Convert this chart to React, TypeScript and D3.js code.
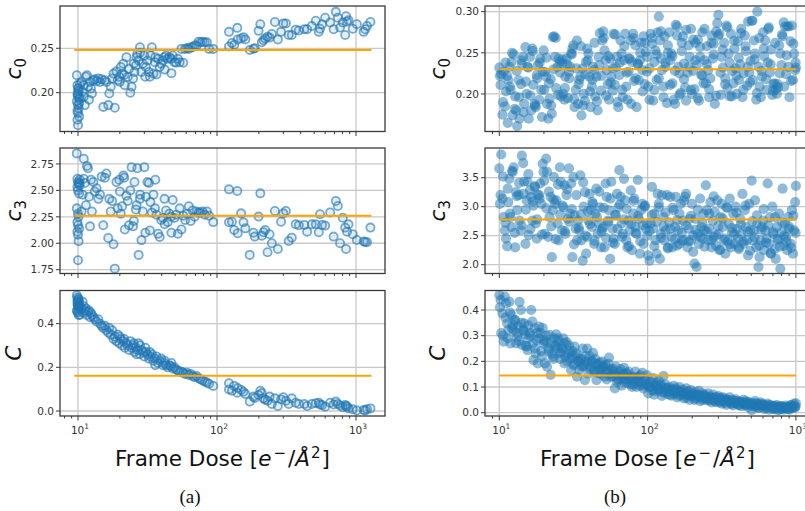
import React from "react";
import * as d3 from "d3";

// ---------- (a) frame dose and fitted parameters ----------
const doseA = [
  9.8, 9.9, 10.0, 10.1, 9.9, 10.0, 10.2, 9.8, 10.0, 10.1,
  9.9, 10.0, 10.2, 9.9, 10.0, 10.1, 10.0, 10.2, 10.3, 10.3,
  10.6, 10.8, 11.0, 11.0, 11.2, 11.4, 11.6, 11.8, 12.0, 12.2,
  12.4, 12.6, 12.9, 13.2, 13.6, 14.0, 14.4, 14.8, 15.2, 15.6,
  16.0, 16.5, 16.8, 17.2, 17.6, 18.0, 18.4, 18.9, 19.3, 19.8,
  20.3, 20.8, 21.2, 21.7, 22.3, 22.8, 23.3, 23.8, 24.3, 24.9,
  25.5, 26.1, 26.7, 27.3, 27.9, 28.6, 29.3, 30.0, 30.8, 31.6,
  32.4, 33.2, 34.0, 34.9, 35.8, 36.7, 37.7, 38.7, 39.7, 40.8,
  41.9, 43.0, 44.2, 45.4, 46.7, 48.0, 49.4, 50.8, 52.3, 53.9,
  55.5, 57.2, 59.0, 60.8, 62.7, 64.7, 66.8, 69.0, 71.3, 73.7,
  76.2, 78.8, 81.6, 84.6, 87.7, 94.0, 20.0, 21.5, 25.2, 28.0,
  32.9, 36.0, 42.0, 47.0, 30.5, 26.4,
  122, 122, 128, 133, 140, 141, 149, 155, 160, 172,
  183, 187, 199, 205, 210, 216, 222, 231, 239, 248,
  261, 274, 289, 300, 313, 328, 345, 368, 388, 425,
  445, 481, 514, 540, 551, 570, 600, 652, 690, 716,
  740, 768, 803, 836, 848, 862, 883, 948, 1013, 1135,
  1165, 1200, 1270,
];

const c0A = [
  0.2196, 0.2085, 0.2048, 0.2019, 0.1981, 0.1956, 0.193, 0.19, 0.1863, 0.1826,
  0.1796, 0.177, 0.1733, 0.1696, 0.1633, 0.205, 0.199, 0.188, 0.21, 0.195,
  0.212, 0.201, 0.2085, 0.1956, 0.186, 0.218, 0.2196, 0.2067, 0.192, 0.212,
  0.2048, 0.199, 0.214, 0.215, 0.213, 0.216, 0.212, 0.215, 0.184, 0.214,
  0.212, 0.186, 0.199, 0.2067, 0.216, 0.2215, 0.183, 0.224, 0.214, 0.218,
  0.229, 0.2215, 0.2326, 0.2085, 0.24, 0.2178, 0.227, 0.2, 0.2067, 0.216,
  0.2233, 0.2307, 0.2437, 0.2363, 0.2511, 0.2233, 0.2326, 0.2419, 0.229, 0.2363,
  0.2233, 0.2419, 0.2511, 0.2215, 0.2344, 0.2204, 0.2381, 0.229, 0.2326, 0.2363,
  0.24, 0.2419, 0.2381, 0.24, 0.2381, 0.2419, 0.2344, 0.2337, 0.2381, 0.2344,
  0.2493, 0.2337, 0.2493, 0.2504, 0.2493, 0.2511, 0.2511, 0.253, 0.253, 0.2574,
  0.2567, 0.2574, 0.2567, 0.2567, 0.2493, 0.2493, 0.2122, 0.22, 0.233, 0.245,
  0.218, 0.24, 0.226, 0.222, 0.218, 0.24,
  0.2685, 0.252, 0.256, 0.254, 0.273, 0.26, 0.261, 0.2625, 0.26, 0.248,
  0.2495, 0.25, 0.2696, 0.277, 0.2567, 0.259, 0.261, 0.263, 0.262, 0.266,
  0.2796, 0.26, 0.2685, 0.278, 0.278, 0.265, 0.265, 0.271, 0.27, 0.2715,
  0.2715, 0.275, 0.281, 0.2685, 0.272, 0.277, 0.2844, 0.279, 0.2715, 0.291,
  0.2844, 0.2733, 0.279, 0.265, 0.286, 0.28, 0.2815, 0.272, 0.277, 0.2685,
  0.2715, 0.275, 0.2796,
];

const c3A = [
  2.85, 2.61, 2.58, 2.56, 2.53, 2.5, 2.47, 2.33, 2.28, 2.25,
  2.2, 2.17, 2.14, 2.11, 2.08, 2.02, 1.84, 2.57, 2.6, 2.55,
  2.3, 2.46, 2.61, 2.8, 2.57, 2.36, 2.73, 2.71, 2.44, 2.16,
  2.6, 2.3, 2.58, 2.49, 2.52, 2.42, 2.46, 2.63, 2.17, 2.62,
  2.66, 2.05, 2.42, 2.3, 2.4, 1.99, 1.76, 2.58, 2.33, 2.6,
  2.28, 2.35, 2.64, 2.13, 2.45, 2.4, 2.17, 2.5, 2.72, 2.16,
  2.58, 2.32, 2.71, 1.89, 2.42, 2.03, 2.3, 2.72, 2.44, 2.58,
  2.57, 2.39, 2.29, 2.46, 2.33, 2.27, 2.09, 2.06, 2.22, 2.24,
  2.42, 2.31, 2.2, 2.28, 2.25, 2.41, 2.24, 2.27, 2.09, 2.33,
  2.13, 2.26, 2.22, 2.28, 2.35, 2.21, 2.31, 2.25, 2.3, 2.29,
  2.29, 2.3, 2.27, 2.3, 2.26, 2.2, 2.49, 2.62, 2.21, 2.46,
  2.12, 2.6, 2.18, 2.1, 2.1, 2.36,
  2.51, 2.198, 2.204, 2.126, 2.494, 2.094, 2.283, 2.198, 2.141, 1.89,
  2.1, 2.063, 2.252, 2.472, 2.072, 2.104, 2.126, 1.915, 2.085, 2.0,
  2.305, 1.946, 2.204, 2.283, 2.305, 2.022, 2.053, 2.179, 2.17, 2.173,
  2.11, 2.179, 2.179, 2.104, 2.274, 2.173, 2.167, 2.292, 2.063, 2.4,
  2.352, 2.0, 2.242, 2.148, 1.946, 2.11, 2.179, 2.085, 2.031, 2.016,
  2.013, 2.01, 2.148,
];

const cA = [
  0.53, 0.52, 0.51, 0.5, 0.49, 0.48, 0.47, 0.46, 0.45, 0.44,
  0.505, 0.495, 0.475, 0.455, 0.485, 0.515, 0.465, 0.5, 0.44, 0.48,
  0.47, 0.5, 0.45, 0.48, 0.46, 0.47, 0.44, 0.455, 0.46, 0.43,
  0.45, 0.44, 0.43, 0.42, 0.41, 0.42, 0.4, 0.39, 0.38, 0.39,
  0.37, 0.36, 0.38, 0.35, 0.37, 0.33, 0.34, 0.32, 0.35, 0.31,
  0.33, 0.3, 0.32, 0.29, 0.31, 0.3, 0.28, 0.32, 0.29, 0.3,
  0.27, 0.29, 0.28, 0.31, 0.26, 0.28, 0.27, 0.25, 0.27, 0.26,
  0.24, 0.25, 0.26, 0.23, 0.24, 0.25, 0.22, 0.23, 0.24, 0.21,
  0.22, 0.21, 0.2, 0.21, 0.205, 0.195, 0.2, 0.19, 0.185, 0.18,
  0.18, 0.175, 0.17, 0.175, 0.165, 0.17, 0.16, 0.155, 0.16, 0.15,
  0.145, 0.14, 0.135, 0.13, 0.125, 0.115, 0.34, 0.33, 0.31, 0.3,
  0.27, 0.21, 0.23, 0.22, 0.29, 0.26,
  0.127, 0.099, 0.093, 0.115, 0.084, 0.105, 0.096, 0.088, 0.078, 0.043,
  0.066, 0.06, 0.073, 0.093, 0.082, 0.058, 0.052, 0.047, 0.066, 0.032,
  0.058, 0.023, 0.053, 0.063, 0.047, 0.032, 0.058, 0.038, 0.032, 0.032,
  0.023, 0.032, 0.036, 0.038, 0.03, 0.027, 0.02, 0.038, 0.03, 0.043,
  0.032, 0.025, 0.017, 0.028, 0.023, 0.02, 0.012, 0.008, 0.002, 0.005,
  0.002, 0.008, 0.012,
];

// ---------- (b) frame dose and fitted parameters ----------
const doseB = [
  10.0, 10.2, 10.3, 10.5, 10.7, 10.9, 11.1, 11.3, 11.5, 11.7,
  11.9, 12.1, 12.3, 12.5, 12.8, 13.0, 13.2, 13.5, 13.7, 14.0,
  14.2, 14.5, 14.7, 15.0, 15.3, 15.5, 15.8, 16.1, 16.4, 16.7,
  17.0, 17.3, 17.6, 17.9, 18.2, 18.6, 18.9, 19.2, 19.6, 19.9,
  20.3, 20.7, 21.0, 21.4, 21.8, 22.2, 22.6, 23.0, 23.4, 23.8,
  24.2, 24.7, 25.1, 25.6, 26.0, 26.5, 27.0, 27.5, 27.9, 28.4,
  29.0, 29.5, 30.0, 30.5, 31.1, 31.6, 32.2, 32.8, 33.4, 34.0,
  34.6, 35.2, 35.8, 36.5, 37.1, 37.8, 38.5, 39.2, 39.9, 40.6,
  41.3, 42.1, 42.8, 43.6, 44.4, 45.2, 46.0, 46.8, 47.6, 48.5,
  49.4, 50.3, 51.2, 52.1, 53.0, 54.0, 54.9, 55.9, 56.9, 58.0,
  59.0, 60.1, 61.1, 62.2, 63.4, 64.5, 65.7, 66.8, 68.0, 69.3,
  70.5, 71.8, 73.1, 74.4, 75.7, 77.1, 78.5, 79.9, 81.3, 82.8,
  84.3, 85.8, 87.3, 88.9, 90.5, 92.1, 93.8, 95.5, 97.2, 98.9,
  101, 103, 105, 107, 109, 111, 113, 115, 117, 119,
  121, 123, 125, 128, 130, 132, 135, 137, 140, 142,
  145, 147, 150, 153, 155, 158, 161, 164, 167, 170,
  173, 176, 179, 182, 186, 189, 192, 196, 199, 203,
  207, 210, 214, 218, 222, 226, 230, 234, 238, 242,
  247, 251, 256, 260, 265, 270, 275, 279, 284, 290,
  295, 300, 305, 311, 316, 322, 328, 334, 340, 346,
  352, 358, 365, 371, 378, 385, 392, 399, 406, 413,
  421, 428, 436, 444, 452, 460, 468, 476, 485, 494,
  503, 512, 521, 530, 540, 549, 559, 569, 580, 590,
  601, 611, 622, 634, 645, 657, 668, 680, 693, 705,
  718, 731, 744, 757, 771, 785, 799, 813, 828, 843,
  858, 873, 889, 905, 921, 938, 955, 972, 989, 1000,
  // second pass of frames
  10.1, 10.6, 11.0, 11.4, 11.8, 12.2, 12.7, 13.1, 13.6, 14.1,
  14.6, 15.1, 15.7, 16.2, 16.8, 17.4, 18.0, 18.7, 19.4, 20.1,
  20.8, 21.6, 22.4, 23.2, 24.0, 24.9, 25.8, 26.7, 27.7, 28.7,
  29.7, 30.8, 31.9, 33.1, 34.3, 35.5, 36.8, 38.1, 39.5, 40.9,
  42.4, 43.9, 45.5, 47.2, 48.9, 50.6, 52.5, 54.4, 56.3, 58.4,
  60.5, 62.7, 64.9, 67.3, 69.7, 72.2, 74.8, 77.5, 80.3, 83.2,
  86.2, 89.3, 92.6, 95.9, 99.4,
  103, 107, 111, 115, 119, 123, 128, 132, 137, 142,
  147, 153, 158, 164, 170, 176, 182, 189, 196, 203,
  210, 218, 226, 234, 242, 251, 260, 269, 279, 289,
  299, 310, 321, 333, 345, 357, 370, 383, 397, 412,
  426, 442, 458, 474, 491, 509, 527, 546, 566, 586,
  607, 629, 652, 675, 700, 725, 751, 778, 806, 835,
  865, 896, 929, 962, 995,
];

const c0B = [
  0.232, 0.211, 0.224, 0.175, 0.227, 0.185, 0.203, 0.222, 0.217, 0.233,
  0.205, 0.239, 0.174, 0.248, 0.197, 0.18, 0.161, 0.217, 0.17, 0.212,
  0.237, 0.245, 0.188, 0.257, 0.2, 0.233, 0.17, 0.245, 0.18, 0.255,
  0.211, 0.188, 0.184, 0.223, 0.235, 0.193, 0.243, 0.205, 0.227, 0.253,
  0.227, 0.221, 0.188, 0.17, 0.194, 0.218, 0.176, 0.269, 0.27, 0.245,
  0.207, 0.233, 0.243, 0.239, 0.197, 0.237, 0.2, 0.193, 0.221, 0.243,
  0.195, 0.227, 0.233, 0.249, 0.255, 0.259, 0.184, 0.205, 0.265, 0.188,
  0.217, 0.221, 0.174, 0.231, 0.2, 0.192, 0.239, 0.255, 0.249, 0.221,
  0.184, 0.209, 0.233, 0.229, 0.197, 0.221, 0.18, 0.245, 0.274, 0.204,
  0.265, 0.276, 0.253, 0.241, 0.229, 0.212, 0.193, 0.243, 0.221, 0.204,
  0.273, 0.211, 0.233, 0.245, 0.184, 0.223, 0.265, 0.249, 0.196, 0.241,
  0.273, 0.209, 0.193, 0.227, 0.243, 0.265, 0.239, 0.273, 0.216, 0.259,
  0.184, 0.237, 0.217, 0.241, 0.262, 0.229, 0.27, 0.212, 0.251, 0.227,
  0.209, 0.193, 0.273, 0.261, 0.192, 0.239, 0.253, 0.217, 0.275, 0.294,
  0.265, 0.243, 0.229, 0.209, 0.27, 0.233, 0.189, 0.25, 0.275, 0.241,
  0.249, 0.213, 0.193, 0.188, 0.284, 0.282, 0.233, 0.225, 0.201, 0.262,
  0.27, 0.237, 0.208, 0.192, 0.226, 0.259, 0.245, 0.279, 0.2, 0.228,
  0.206, 0.262, 0.235, 0.266, 0.192, 0.245, 0.223, 0.275, 0.213, 0.241,
  0.213, 0.258, 0.229, 0.196, 0.219, 0.271, 0.243, 0.261, 0.188, 0.276,
  0.286, 0.296, 0.273, 0.199, 0.245, 0.232, 0.262, 0.219, 0.283, 0.207,
  0.249, 0.197, 0.273, 0.228, 0.213, 0.255, 0.231, 0.2, 0.264, 0.217,
  0.236, 0.279, 0.196, 0.225, 0.271, 0.252, 0.21, 0.288, 0.226, 0.24,
  0.289, 0.217, 0.265, 0.249, 0.193, 0.3, 0.233, 0.209, 0.196, 0.221,
  0.275, 0.246, 0.265, 0.205, 0.238, 0.281, 0.226, 0.254, 0.199, 0.212,
  0.213, 0.205, 0.2, 0.208, 0.259, 0.249, 0.235, 0.27, 0.287, 0.282,
  0.224, 0.282, 0.233, 0.196, 0.264, 0.283, 0.217, 0.249, 0.229, 0.232,
  0.222, 0.19, 0.238, 0.165, 0.209, 0.25, 0.182, 0.228, 0.196, 0.241,
  0.178, 0.215, 0.232, 0.198, 0.252, 0.186, 0.219, 0.238, 0.172, 0.205,
  0.244, 0.213, 0.186, 0.23, 0.268, 0.199, 0.226, 0.242, 0.207, 0.236,
  0.219, 0.248, 0.194, 0.231, 0.212, 0.258, 0.186, 0.224, 0.241, 0.203,
  0.217, 0.262, 0.191, 0.235, 0.222, 0.268, 0.198, 0.246, 0.214, 0.231,
  0.272, 0.19, 0.238, 0.205, 0.258, 0.226, 0.243, 0.188, 0.268, 0.219,
  0.236, 0.25, 0.203, 0.262, 0.245,
  0.231, 0.268, 0.205, 0.248, 0.219, 0.276, 0.196, 0.238, 0.259, 0.211,
  0.246, 0.228, 0.271, 0.199, 0.252, 0.218, 0.278, 0.233, 0.205, 0.266,
  0.241, 0.195, 0.257, 0.223, 0.279, 0.236, 0.206, 0.262, 0.248, 0.198,
  0.271, 0.226, 0.254, 0.212, 0.281, 0.238, 0.197, 0.265, 0.222, 0.244,
  0.274, 0.205, 0.258, 0.233, 0.214, 0.289, 0.242, 0.201, 0.268, 0.228,
  0.255, 0.218, 0.279, 0.236, 0.204, 0.262, 0.212, 0.225, 0.272, 0.209,
  0.247, 0.282, 0.216, 0.261, 0.238,
];

const c3B = [
  3.66, 3.2, 3.9, 3.14, 2.82, 2.59, 2.45, 2.32, 3.08, 3.48,
  2.82, 2.65, 3.6, 3.68, 2.3, 3.25, 2.94, 3.2, 2.76, 2.59,
  3.88, 3.75, 3.43, 2.36, 3.11, 3.43, 2.51, 3.28, 3.17, 2.76,
  3.02, 3.34, 2.71, 2.45, 3.2, 3.2, 3.4, 3.05, 3.74, 3.6,
  2.53, 3.83, 3.6, 2.48, 2.82, 3.17, 2.13, 2.94, 3.51, 3.05,
  3.11, 2.71, 2.42, 3.68, 3.43, 2.59, 2.99, 3.37, 2.53, 3.2,
  2.79, 3.66, 2.88, 3.4, 2.13, 3.51, 2.85, 2.62, 2.42, 2.76,
  2.59, 3.54, 2.42, 2.07, 3.0, 3.25, 2.19, 2.48, 2.76, 3.22,
  2.94, 2.65, 3.05, 2.36, 2.88, 3.31, 2.53, 2.71, 2.99, 2.3,
  2.62, 2.65, 2.3, 3.4, 3.17, 2.76, 2.94, 2.1, 3.43, 2.62,
  2.45, 2.36, 2.85, 3.22, 2.99, 3.63, 3.17, 2.71, 2.53, 3.48,
  3.11, 2.42, 2.3, 2.76, 2.59, 3.28, 2.25, 2.88, 3.14, 2.65,
  2.53, 3.46, 2.79, 2.19, 2.94, 3.05, 2.36, 3.0, 2.62, 2.71,
  2.16, 2.07, 2.71, 3.34, 2.62, 2.88, 2.42, 2.19, 3.22, 2.99,
  2.1, 2.53, 3.2, 2.82, 2.42, 2.59, 3.2, 2.3, 2.73, 3.17,
  2.48, 2.3, 2.94, 2.65, 3.17, 2.33, 2.59, 2.88, 3.05, 2.42,
  2.76, 2.42, 3.17, 3.22, 2.3, 2.62, 2.79, 2.42, 3.05, 2.5,
  2.02, 2.79, 1.96, 2.53, 2.36, 3.14, 2.65, 2.45, 2.88, 2.59,
  3.37, 2.94, 2.42, 2.62, 3.08, 2.3, 2.76, 2.48, 2.91, 2.33,
  3.11, 2.53, 2.25, 2.82, 3.05, 2.65, 2.42, 2.19, 2.99, 2.4,
  2.71, 3.14, 2.3, 2.56, 2.88, 2.36, 3.0, 2.62, 2.45, 2.27,
  2.79, 2.53, 3.22, 2.36, 2.94, 2.65, 2.42, 2.16, 3.05, 2.59,
  3.45, 2.42, 2.59, 3.11, 2.3, 2.71, 1.96, 2.13, 2.42, 2.65,
  2.76, 2.25, 2.59, 2.45, 3.4, 2.36, 2.82, 2.19, 3.0, 2.53,
  2.27, 2.1, 2.65, 2.42, 2.88, 1.93, 2.56, 3.31, 2.33, 2.71,
  2.48, 2.25, 2.82, 2.65, 2.36, 2.94, 2.19, 2.59, 3.08, 3.36,
  3.05, 3.52, 2.72, 3.31, 2.88, 3.62, 2.55, 3.18, 3.41, 2.68,
  3.22, 2.95, 3.56, 2.62, 3.09, 3.35, 2.78, 3.14, 2.52, 3.45,
  2.97, 3.26, 2.66, 3.12, 2.44, 3.38, 2.86, 3.02, 2.58, 3.3,
  2.74, 2.96, 2.35, 3.2, 2.64, 2.87, 3.42, 2.5, 2.92, 2.7,
  3.08, 2.41, 2.82, 3.26, 2.57, 2.98, 2.46, 2.74, 3.14, 2.38,
  2.86, 2.62, 3.04, 2.48, 2.78, 2.96, 2.32, 2.7, 3.1, 2.55,
  2.84, 2.4, 2.68, 3.02, 2.5,
  2.58, 2.86, 2.32, 2.74, 3.05, 2.46, 2.66, 2.9, 2.28, 2.62,
  2.98, 2.44, 2.77, 2.36, 2.55, 3.1, 2.68, 2.4, 2.84, 2.22,
  2.6, 2.95, 2.48, 2.72, 2.31, 2.57, 2.88, 2.42, 3.18, 2.5,
  2.66, 2.26, 2.8, 2.45, 2.98, 2.35, 2.63, 2.52, 2.9, 2.3,
  2.7, 2.4, 3.02, 2.57, 2.24, 2.75, 2.47, 2.85, 2.33, 2.6,
  2.96, 2.38, 2.68, 2.2, 2.56, 2.82, 2.44, 2.31, 2.73, 2.5,
  2.4, 2.62, 2.29, 2.84, 2.55,
];

const cB = [
  0.458, 0.44, 0.31, 0.387, 0.277, 0.452, 0.426, 0.348, 0.322, 0.432,
  0.27, 0.38, 0.342, 0.322, 0.361, 0.27, 0.296, 0.335, 0.432, 0.4,
  0.264, 0.322, 0.348, 0.305, 0.257, 0.244, 0.29, 0.31, 0.4, 0.355,
  0.205, 0.329, 0.231, 0.283, 0.192, 0.335, 0.31, 0.24, 0.33, 0.27,
  0.192, 0.277, 0.179, 0.25, 0.303, 0.147, 0.23, 0.22, 0.29, 0.262,
  0.305, 0.25, 0.28, 0.21, 0.235, 0.257, 0.29, 0.192, 0.22, 0.275,
  0.23, 0.262, 0.21, 0.166, 0.24, 0.185, 0.257, 0.22, 0.14, 0.2,
  0.166, 0.21, 0.179, 0.25, 0.185, 0.127, 0.2, 0.25, 0.152, 0.22,
  0.179, 0.2, 0.233, 0.166, 0.21, 0.127, 0.185, 0.153, 0.195, 0.17,
  0.199, 0.179, 0.14, 0.185, 0.13, 0.165, 0.215, 0.15, 0.17, 0.14,
  0.16, 0.095, 0.18, 0.12, 0.145, 0.13, 0.17, 0.105, 0.15, 0.175,
  0.13, 0.155, 0.115, 0.16, 0.135, 0.11, 0.1, 0.14, 0.125, 0.16,
  0.1, 0.128, 0.14, 0.105, 0.118, 0.155, 0.095, 0.128, 0.11, 0.145,
  0.075, 0.1, 0.12, 0.088, 0.135, 0.07, 0.105, 0.116, 0.085, 0.125,
  0.09, 0.105, 0.065, 0.143, 0.08, 0.11, 0.095, 0.072, 0.1, 0.085,
  0.066, 0.09, 0.105, 0.075, 0.095, 0.06, 0.085, 0.1, 0.07, 0.08,
  0.09, 0.056, 0.075, 0.095, 0.068, 0.082, 0.05, 0.088, 0.065, 0.075,
  0.05, 0.08, 0.062, 0.07, 0.085, 0.045, 0.066, 0.075, 0.055, 0.07,
  0.064, 0.048, 0.075, 0.052, 0.06, 0.04, 0.07, 0.056, 0.044, 0.062,
  0.05, 0.065, 0.04, 0.058, 0.035, 0.06, 0.046, 0.055, 0.03, 0.05,
  0.045, 0.06, 0.035, 0.05, 0.028, 0.04, 0.052, 0.036, 0.045, 0.03,
  0.042, 0.025, 0.038, 0.05, 0.03, 0.044, 0.035, 0.022, 0.04, 0.032,
  0.01, 0.036, 0.028, 0.045, 0.022, 0.035, 0.018, 0.03, 0.04, 0.025,
  0.032, 0.015, 0.028, 0.02, 0.035, 0.012, 0.025, 0.03, 0.018, 0.026,
  0.014, 0.022, 0.03, 0.01, 0.02, 0.026, 0.016, 0.024, 0.012, 0.02,
  0.028, 0.015, 0.022, 0.012, 0.03, 0.018, 0.025, 0.035, 0.02, 0.036,
  0.41, 0.3, 0.37, 0.29, 0.39, 0.33, 0.36, 0.31, 0.28, 0.35,
  0.32, 0.26, 0.34, 0.3, 0.27, 0.25, 0.31, 0.29, 0.22, 0.28,
  0.3, 0.24, 0.27, 0.21, 0.26, 0.29, 0.23, 0.25, 0.27, 0.2,
  0.24, 0.22, 0.19, 0.23, 0.2, 0.21, 0.18, 0.22, 0.19, 0.17,
  0.2, 0.16, 0.19, 0.17, 0.15, 0.18, 0.16, 0.19, 0.14, 0.17,
  0.15, 0.13, 0.16, 0.14, 0.12, 0.15, 0.13, 0.14, 0.11, 0.135,
  0.12, 0.145, 0.105, 0.125, 0.11,
  0.1, 0.115, 0.085, 0.105, 0.09, 0.11, 0.078, 0.095, 0.083, 0.07,
  0.09, 0.075, 0.085, 0.065, 0.08, 0.07, 0.058, 0.075, 0.064, 0.07,
  0.055, 0.068, 0.06, 0.05, 0.065, 0.055, 0.048, 0.06, 0.052, 0.042,
  0.055, 0.045, 0.05, 0.038, 0.048, 0.042, 0.035, 0.046, 0.04, 0.03,
  0.042, 0.036, 0.028, 0.04, 0.032, 0.025, 0.036, 0.03, 0.022, 0.033,
  0.028, 0.018, 0.03, 0.024, 0.015, 0.027, 0.02, 0.012, 0.025, 0.018,
  0.022, 0.015, 0.028, 0.02, 0.025,
];

// Mean of each parameter, drawn as a horizontal reference line
const meansA = [0.248, 2.26, 0.162];
const meansB = [0.23, 2.78, 0.145];
// Dose range covered by each mean line
const meanSpanA = [9.4, 1290];
const meanSpanB = [10, 1000];

// Tick values for the y axes, one list per row
const yTicksA = [[0.2, 0.25], [1.75, 2.0, 2.25, 2.5, 2.75], [0.0, 0.2, 0.4]];
const yTicksB = [[0.2, 0.25, 0.3], [2.0, 2.5, 3.0, 3.5], [0.0, 0.1, 0.2, 0.3, 0.4]];
const yFormatsA = [".2f", ".2f", ".1f"];
const yFormatsB = [".2f", ".1f", ".1f"];
const xDecades = [10, 100, 1000];
const rowLabels = [
  { main: "c", sub: "0" },
  { main: "c", sub: "3" },
  { main: "C", sub: "" },
];

// ---------- layout ----------
const W = 805;
const H = 511;
const BLUE = "#1f77b4";
const ORANGE = "#ffa500";
const GRID = "#c8c8c8";
const SPINE = "#3a3a3a";
const TICKTXT = "#333333";
const SANS = "'DejaVu Sans', sans-serif";

const rows = [
  { top: 6, bottom: 131.5 },
  { top: 148, bottom: 273.5 },
  { top: 290.5, bottom: 416 },
];

const columns = [
  {
    key: "a",
    left: 60,
    right: 385,
    xDomain: [Math.pow(10, 0.8705), Math.pow(10, 3.2086)],
    yDomains: [[0.1563, 0.2976], [1.714, 2.901], [-0.0229, 0.552]],
    dose: doseA,
    series: [c0A, c3A, cA],
    means: meansA,
    span: meanSpanA,
    ticks: yTicksA,
    formats: yFormatsA,
    ring: true,
    labelX: 15,
    caption: "(a)",
    captionX: 190,
  },
  {
    key: "b",
    left: 485,
    right: 810,
    xDomain: [Math.pow(10, 0.9036), Math.pow(10, 3.095)],
    yDomains: [[0.1544, 0.3069], [1.848, 4.012], [-0.0129, 0.476]],
    dose: doseB,
    series: [c0B, c3B, cB],
    means: meansB,
    span: meanSpanB,
    ticks: yTicksB,
    formats: yFormatsB,
    ring: false,
    labelX: 439,
    caption: "(b)",
    captionX: 615,
  },
];

function minorTicks(domain: number[]): number[] {
  const out: number[] = [];
  for (let dec = 1; dec <= 1000; dec *= 10) {
    for (let m = 2; m <= 9; m++) {
      const v = m * dec;
      if (v >= domain[0] && v <= domain[1]) out.push(v);
    }
  }
  return out;
}

function Panel({ col, ri }: { col: any; ri: number }) {
  const row = rows[ri];
  const x = d3.scaleLog().domain(col.xDomain).range([col.left, col.right]);
  const y = d3.scaleLinear().domain(col.yDomains[ri]).range([row.bottom, row.top]);
  const values: number[] = col.series[ri];
  const fmt = d3.format(col.formats[ri]);
  const clipId = `clip-${col.key}-${ri}`;
  const majors = xDecades.filter((d) => d >= col.xDomain[0] && d <= col.xDomain[1]);
  const minors = minorTicks(col.xDomain);
  const isBottom = ri === rows.length - 1;
  const cy = (row.top + row.bottom) / 2;
  const lab = rowLabels[ri];

  return (
    <g>
      <defs>
        <clipPath id={clipId}>
          <rect x={col.left} y={row.top} width={col.right - col.left} height={row.bottom - row.top} />
        </clipPath>
      </defs>
      <rect x={col.left} y={row.top} width={col.right - col.left} height={row.bottom - row.top} fill="#ffffff" />
      {/* grid */}
      <g stroke={GRID} strokeWidth={1.3}>
        {majors.map((d) => (
          <line key={`gx${d}`} x1={x(d)} x2={x(d)} y1={row.top} y2={row.bottom} />
        ))}
        {col.ticks[ri].map((t: number) => (
          <line key={`gy${t}`} x1={col.left} x2={col.right} y1={y(t)} y2={y(t)} />
        ))}
      </g>
      {/* points */}
      <g clipPath={`url(#${clipId})`}>
        {col.dose.map((d: number, i: number) =>
          col.ring ? (
            <circle
              key={i}
              cx={x(d)}
              cy={y(values[i])}
              r={4.1}
              fill={BLUE}
              fillOpacity={0.12}
              stroke={BLUE}
              strokeOpacity={0.6}
              strokeWidth={1.8}
            />
          ) : (
            <circle key={i} cx={x(d)} cy={y(values[i])} r={5.1} fill={BLUE} fillOpacity={0.5} />
          )
        )}
        <line
          x1={x(col.span[0])}
          x2={x(col.span[1])}
          y1={y(col.means[ri])}
          y2={y(col.means[ri])}
          stroke={ORANGE}
          strokeWidth={2}
        />
      </g>
      {/* frame */}
      <rect
        x={col.left}
        y={row.top}
        width={col.right - col.left}
        height={row.bottom - row.top}
        fill="none"
        stroke={SPINE}
        strokeWidth={1.3}
      />
      {/* ticks */}
      <g stroke={SPINE} strokeWidth={1}>
        {majors.map((d) => (
          <line key={`tx${d}`} x1={x(d)} x2={x(d)} y1={row.bottom} y2={row.bottom + 4.5} />
        ))}
        {minors.map((d) => (
          <line key={`mx${d}`} x1={x(d)} x2={x(d)} y1={row.bottom} y2={row.bottom + 2.5} />
        ))}
        {col.ticks[ri].map((t: number) => (
          <line key={`ty${t}`} x1={col.left - 4} x2={col.left} y1={y(t)} y2={y(t)} />
        ))}
      </g>
      {/* y tick labels */}
      <g fontFamily={SANS} fontSize={10.5} fill={TICKTXT} textAnchor="end">
        {col.ticks[ri].map((t: number) => (
          <text key={`ly${t}`} x={col.left - 6} y={y(t)} dy="0.36em">
            {fmt(t)}
          </text>
        ))}
      </g>
      {/* x tick labels */}
      {isBottom && (
        <g fontFamily={SANS} fontSize={10.5} fill={TICKTXT} textAnchor="middle">
          {majors.map((d) => (
            <text key={`lx${d}`} x={x(d) + 2} y={row.bottom + 18}>
              10
              <tspan fontSize={7.5} dy={-5}>
                {String(Math.round(Math.log10(d)))}
              </tspan>
            </text>
          ))}
        </g>
      )}
      {/* y axis label */}
      <text
        transform={`translate(${col.labelX},${cy}) rotate(-90)`}
        fontFamily={SANS}
        fontSize={21.5}
        fill="#111"
        textAnchor="middle"
        dy="0.3em"
      >
        <tspan fontStyle="italic">{lab.main}</tspan>
        {lab.sub && (
          <tspan fontSize={15} dy={5}>
            {lab.sub}
          </tspan>
        )}
      </text>
    </g>
  );
}

function XLabel({ cx }: { cx: number }) {
  return (
    <text x={cx} y={466} fontFamily={SANS} fontSize={21.5} fill="#111" textAnchor="middle">
      Frame Dose [<tspan fontStyle="italic">e</tspan>
      <tspan fontSize={15} dy={-8} dx={2}>−</tspan>
      <tspan dy={8} dx={2}>/</tspan>
      <tspan fontStyle="italic">Å</tspan>
      <tspan fontSize={15} dy={-8} dx={1}>2</tspan>
      <tspan dy={8} dx={1}>]</tspan>
    </text>
  );
}

export default function App() {
  return (
    <svg
      width={W}
      height={H}
      viewBox={`0 0 ${W} ${H}`}
      style={{ position: "absolute", left: 0, top: 0, display: "block", background: "#ffffff" }}
    >
      <rect x={0} y={0} width={W} height={H} fill="#ffffff" />
      {columns.map((col) => (
        <g key={col.key}>
          {rows.map((_, ri) => (
            <Panel key={ri} col={col} ri={ri} />
          ))}
          <XLabel cx={(col.left + col.right) / 2} />
          <text
            x={col.captionX}
            y={503}
            fontFamily="'Liberation Serif', 'DejaVu Serif', serif"
            fontSize={19}
            fill="#111"
            textAnchor="middle"
          >
            {col.caption}
          </text>
        </g>
      ))}
    </svg>
  );
}
